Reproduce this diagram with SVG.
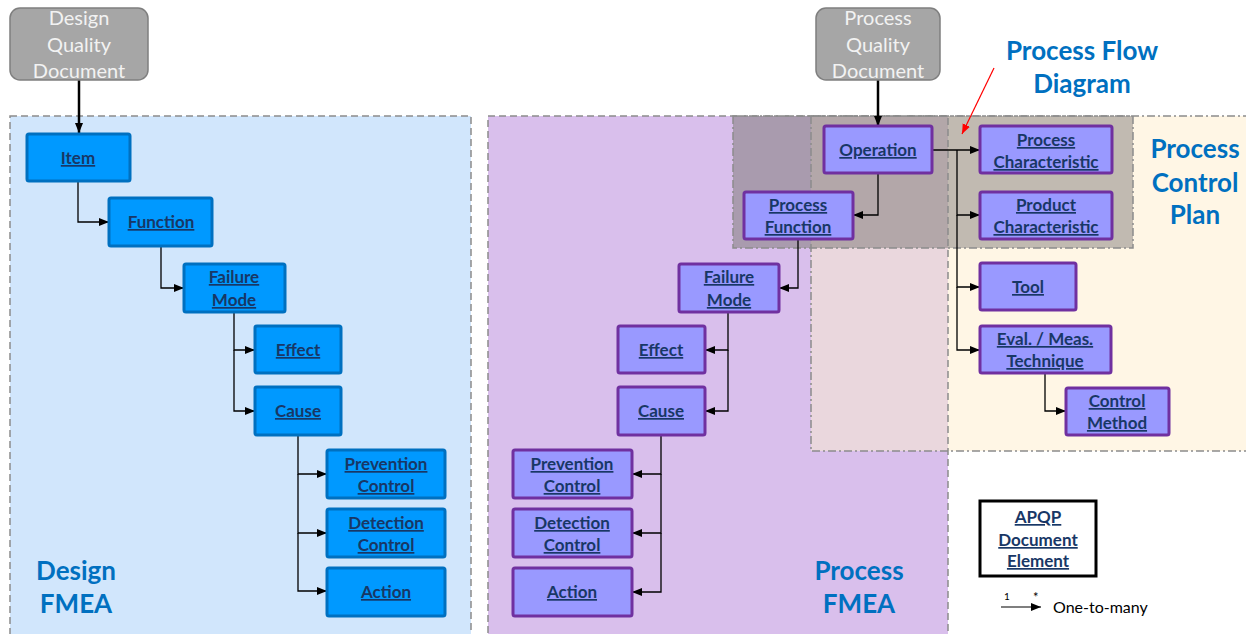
<svg xmlns="http://www.w3.org/2000/svg" width="1246" height="634" viewBox="0 0 1246 634">
  <style>
    .doc { fill: #a6a6a6; stroke: #7f7f7f; stroke-width: 1.5; }
    .doctxt { font-family: Lato, "Liberation Sans", sans-serif; font-size: 20px; fill: #f2f2f2; text-anchor: middle; }
    .dn { fill: #0099ff; stroke: #0070c0; stroke-width: 3; }
    .pn { fill: #9999ff; stroke: #7030a0; stroke-width: 3; }
    .lbl { font-family: Lato, "Liberation Sans", sans-serif; font-weight: bold; font-size: 17px; fill: #183766; text-anchor: middle; text-decoration: underline; }
    .big { font-family: Lato, "Liberation Sans", sans-serif; font-weight: bold; font-size: 26px; fill: #0070c0; text-anchor: middle; }
    .conn { fill: none; stroke: #000; stroke-width: 1.3; }
    .thick { fill: none; stroke: #000; stroke-width: 2.5; }
    .dash { fill: none; stroke: #8c8c8c; stroke-width: 1.5; stroke-dasharray: 7 4; }
    .dashdot { fill: none; stroke: #8c8c8c; stroke-width: 1.5; stroke-dasharray: 8 3 2 3; }
  </style>
  <defs>
    <marker id="ah" markerUnits="userSpaceOnUse" markerWidth="10" markerHeight="10" viewBox="0 0 10 10" refX="10" refY="5" orient="auto">
      <path d="M0,1 L10,5 L0,9 Z" fill="#000"/>
    </marker>
    <marker id="ahr" markerUnits="userSpaceOnUse" markerWidth="10" markerHeight="10" viewBox="0 0 10 10" refX="10" refY="5" orient="auto">
      <path d="M0,1 L10,5 L0,9 Z" fill="#ff0000"/>
    </marker>
  </defs>

  <rect width="1246" height="634" fill="#ffffff"/>

  <!-- Regions -->
  <g id="regions">
    <rect x="10" y="116" width="461" height="530" fill="#d1e6fc"/>
    <rect x="488" y="116" width="460" height="530" fill="#d9bfec"/>
    <rect x="811" y="116" width="445" height="335" fill="#fff6e5"/>
    <rect x="811" y="116" width="137" height="335" fill="#ead7dd"/>
    <rect x="733" y="116" width="78" height="132" fill="#a99bae"/>
    <rect x="811" y="116" width="137" height="132" fill="#b3a7a9"/>
    <rect x="948" y="116" width="185" height="132" fill="#c1bab1"/>
    <rect class="dash" x="10" y="116" width="461" height="530"/>
    <rect class="dash" x="488" y="116" width="460" height="530"/>
    <rect class="dashdot" x="811" y="116" width="445" height="335"/>
    <rect class="dashdot" x="733" y="116" width="400" height="132"/>
  </g>

  <!-- Region titles -->
  <g id="titles">
    <text class="big" x="76" y="580">Design</text>
    <text class="big" x="76" y="613">FMEA</text>
    <text class="big" x="859" y="580">Process</text>
    <text class="big" x="859" y="613">FMEA</text>
    <text class="big" x="1195" y="158">Process</text>
    <text class="big" x="1195" y="192">Control</text>
    <text class="big" x="1195" y="224">Plan</text>
    <text class="big" x="1082" y="60">Process Flow</text>
    <text class="big" x="1082" y="93">Diagram</text>
    <line x1="994" y1="68" x2="962" y2="134" stroke="#ff0000" stroke-width="1.2" marker-end="url(#ahr)"/>
  </g>

  <!-- Connectors -->
  <g id="connectors">
    <!-- design side -->
    <path class="thick" d="M79,80 V133" marker-end="url(#ah)"/>
    <path class="conn" d="M78,181 V222 H109" marker-end="url(#ah)"/>
    <path class="conn" d="M161,246 V288 H184" marker-end="url(#ah)"/>
    <path class="conn" d="M234,312 V350 H255" marker-end="url(#ah)"/>
    <path class="conn" d="M234,350 V411 H255" marker-end="url(#ah)"/>
    <path class="conn" d="M298,435 V474 H327" marker-end="url(#ah)"/>
    <path class="conn" d="M298,474 V533 H327" marker-end="url(#ah)"/>
    <path class="conn" d="M298,533 V591 H327" marker-end="url(#ah)"/>
    <!-- process side -->
    <path class="thick" d="M878,80 V126" marker-end="url(#ah)"/>
    <path class="conn" d="M878,173 V215 H853" marker-end="url(#ah)"/>
    <path class="conn" d="M798,239 V288 H779" marker-end="url(#ah)"/>
    <path class="conn" d="M728,312 V350 H705" marker-end="url(#ah)"/>
    <path class="conn" d="M728,350 V411 H705" marker-end="url(#ah)"/>
    <path class="conn" d="M661,435 V474 H632" marker-end="url(#ah)"/>
    <path class="conn" d="M661,474 V533 H632" marker-end="url(#ah)"/>
    <path class="conn" d="M661,533 V592 H632" marker-end="url(#ah)"/>
    <!-- control plan side -->
    <path class="conn" d="M932,150 H980" marker-end="url(#ah)"/>
    <path class="conn" d="M957,150 V215 H980" marker-end="url(#ah)"/>
    <path class="conn" d="M957,215 V287 H980" marker-end="url(#ah)"/>
    <path class="conn" d="M957,287 V350 H980" marker-end="url(#ah)"/>
    <path class="conn" d="M1045,373 V411 H1066" marker-end="url(#ah)"/>
  </g>

  <!-- Source documents -->
  <g id="design-quality-document">
    <rect class="doc" x="10" y="8" width="138" height="72" rx="10"/>
    <text class="doctxt" x="79" y="25">Design</text>
    <text class="doctxt" x="79" y="52">Quality</text>
    <text class="doctxt" x="79" y="78">Document</text>
  </g>
  <g id="process-quality-document">
    <rect class="doc" x="816" y="8" width="124" height="72" rx="10"/>
    <text class="doctxt" x="878" y="25">Process</text>
    <text class="doctxt" x="878" y="52">Quality</text>
    <text class="doctxt" x="878" y="78">Document</text>
  </g>

  <!-- Design FMEA elements -->
  <g id="d-item">
    <rect class="dn" x="27" y="134" width="103" height="47" rx="2"/>
    <text class="lbl" x="78" y="164">Item</text>
  </g>
  <g id="d-function">
    <rect class="dn" x="109" y="198" width="103" height="48" rx="2"/>
    <text class="lbl" x="161" y="228">Function</text>
  </g>
  <g id="d-failure-mode">
    <rect class="dn" x="184" y="264" width="101" height="48" rx="2"/>
    <text class="lbl" x="234" y="283">Failure</text>
    <text class="lbl" x="234" y="306">Mode</text>
  </g>
  <g id="d-effect">
    <rect class="dn" x="255" y="326" width="86" height="47" rx="2"/>
    <text class="lbl" x="298" y="356">Effect</text>
  </g>
  <g id="d-cause">
    <rect class="dn" x="255" y="387" width="86" height="48" rx="2"/>
    <text class="lbl" x="298" y="417">Cause</text>
  </g>
  <g id="d-prevention-control">
    <rect class="dn" x="327" y="450" width="118" height="48" rx="2"/>
    <text class="lbl" x="386" y="470">Prevention</text>
    <text class="lbl" x="386" y="492">Control</text>
  </g>
  <g id="d-detection-control">
    <rect class="dn" x="327" y="509" width="118" height="48" rx="2"/>
    <text class="lbl" x="386" y="529">Detection</text>
    <text class="lbl" x="386" y="551">Control</text>
  </g>
  <g id="d-action">
    <rect class="dn" x="327" y="568" width="118" height="48" rx="2"/>
    <text class="lbl" x="386" y="598">Action</text>
  </g>

  <!-- Process FMEA / flow / control plan elements -->
  <g id="p-operation">
    <rect class="pn" x="824" y="126" width="108" height="47" rx="2"/>
    <text class="lbl" x="878" y="156">Operation</text>
  </g>
  <g id="p-process-function">
    <rect class="pn" x="744" y="192" width="109" height="47" rx="2"/>
    <text class="lbl" x="798" y="211">Process</text>
    <text class="lbl" x="798" y="233">Function</text>
  </g>
  <g id="p-failure-mode">
    <rect class="pn" x="679" y="264" width="100" height="48" rx="2"/>
    <text class="lbl" x="729" y="283">Failure</text>
    <text class="lbl" x="729" y="306">Mode</text>
  </g>
  <g id="p-effect">
    <rect class="pn" x="618" y="326" width="87" height="47" rx="2"/>
    <text class="lbl" x="661" y="356">Effect</text>
  </g>
  <g id="p-cause">
    <rect class="pn" x="618" y="387" width="87" height="48" rx="2"/>
    <text class="lbl" x="661" y="417">Cause</text>
  </g>
  <g id="p-prevention-control">
    <rect class="pn" x="513" y="450" width="119" height="48" rx="2"/>
    <text class="lbl" x="572" y="470">Prevention</text>
    <text class="lbl" x="572" y="492">Control</text>
  </g>
  <g id="p-detection-control">
    <rect class="pn" x="513" y="509" width="119" height="48" rx="2"/>
    <text class="lbl" x="572" y="529">Detection</text>
    <text class="lbl" x="572" y="551">Control</text>
  </g>
  <g id="p-action">
    <rect class="pn" x="513" y="568" width="119" height="48" rx="2"/>
    <text class="lbl" x="572" y="598">Action</text>
  </g>
  <g id="c-process-characteristic">
    <rect class="pn" x="980" y="126" width="132" height="47" rx="2"/>
    <text class="lbl" x="1046" y="146">Process</text>
    <text class="lbl" x="1046" y="168">Characteristic</text>
  </g>
  <g id="c-product-characteristic">
    <rect class="pn" x="980" y="192" width="132" height="47" rx="2"/>
    <text class="lbl" x="1046" y="211">Product</text>
    <text class="lbl" x="1046" y="233">Characteristic</text>
  </g>
  <g id="c-tool">
    <rect class="pn" x="980" y="263" width="96" height="47" rx="2"/>
    <text class="lbl" x="1028" y="293">Tool</text>
  </g>
  <g id="c-eval-technique">
    <rect class="pn" x="980" y="326" width="131" height="47" rx="2"/>
    <text class="lbl" x="1045" y="345">Eval. / Meas.</text>
    <text class="lbl" x="1045" y="367">Technique</text>
  </g>
  <g id="c-control-method">
    <rect class="pn" x="1066" y="388" width="103" height="47" rx="2"/>
    <text class="lbl" x="1117" y="407">Control</text>
    <text class="lbl" x="1117" y="429">Method</text>
  </g>

  <!-- Legend -->
  <g id="legend-element">
    <rect x="980" y="501" width="116" height="75" fill="#ffffff" stroke="#000" stroke-width="3"/>
    <text class="lbl" x="1038" y="523">APQP</text>
    <text class="lbl" x="1038" y="546">Document</text>
    <text class="lbl" x="1038" y="567">Element</text>
  </g>
  <g id="legend-multiplicity">
    <line x1="1001" y1="607" x2="1041" y2="607" stroke="#000" stroke-width="1.2" marker-end="url(#ah)"/>
    <text x="1004" y="600" font-family="Lato, 'Liberation Sans', sans-serif" font-size="10" fill="#000">1</text>
    <text x="1033" y="602" font-family="Lato, 'Liberation Sans', sans-serif" font-size="13" fill="#000">*</text>
    <text x="1053" y="613" font-family="Lato, 'Liberation Sans', sans-serif" font-size="16" fill="#000">One-to-many</text>
  </g>
</svg>
